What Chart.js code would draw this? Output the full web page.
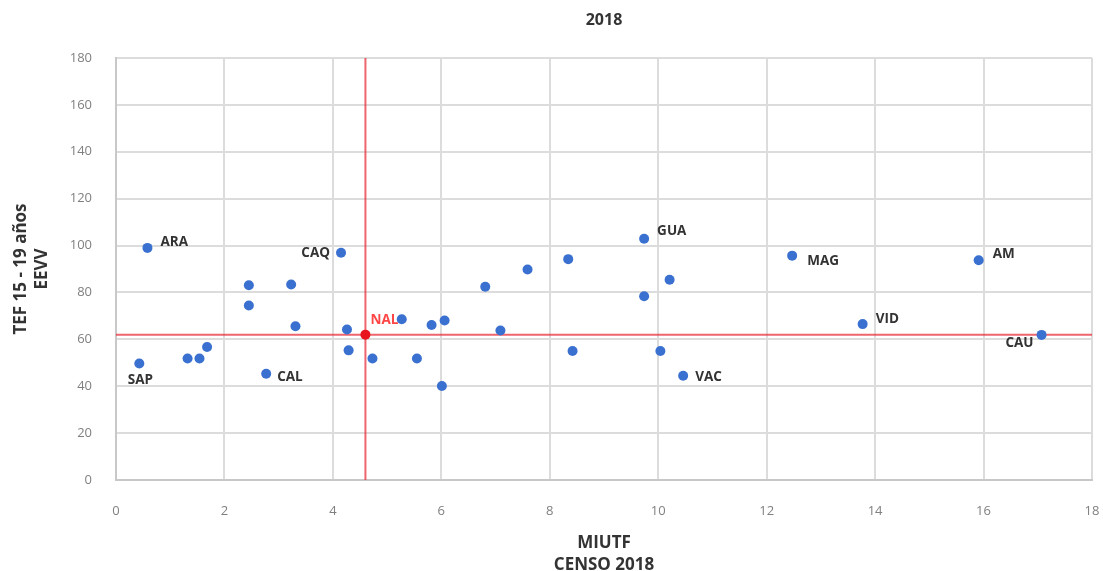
<!DOCTYPE html>
<html>
<head>
<meta charset="utf-8">
<script src="https://cdn.jsdelivr.net/npm/chart.js@4.4.1/dist/chart.umd.min.js"></script>
<style>
html,body{margin:0;padding:0;background:#fff;}
canvas{display:block;}
</style>
</head>
<body>
<canvas id="c" width="1103" height="571"></canvas>
<script>
// ---- data ----
const miutf = [0.58, 0.43, 1.32, 1.54, 1.68, 2.45, 2.45, 2.77, 3.23, 3.31, 4.15, 4.26, 4.29, 4.73, 5.27, 5.55, 5.82, 6.06, 6.01, 6.81, 7.09, 7.59, 8.34, 8.42, 9.74, 9.74, 10.21, 10.04, 10.46, 12.47, 13.77, 15.91, 17.07];
const tef   = [99.0, 49.7, 51.8, 51.8, 56.7, 83.1, 74.4, 45.3, 83.4, 65.6, 96.9, 64.2, 55.3, 51.8, 68.6, 51.8, 66.1, 68.0, 40.1, 82.4, 63.8, 89.8, 94.2, 55.0, 102.9, 78.4, 85.4, 55.0, 44.5, 95.7, 66.5, 93.7, 61.9];
const pointLabels = ['ARA', 'SAP', '', '', '', '', '', 'CAL', '', '', 'CAQ', '', '', '', '', '', '', '', '', '', '', '', '', '', 'GUA', '', '', '', 'VAC', 'MAG', 'VID', 'AM', 'CAU'];
const nalLabel = 'NAL';
const nalMiutf = 4.6;
const nalTef = 62;
const xTicks = [0, 2, 4, 6, 8, 10, 12, 14, 16, 18];
const yTicks = [0, 20, 40, 60, 80, 100, 120, 140, 160, 180];
const chartTitle = '2018';
const xTitle = ['MIUTF', 'CENSO 2018'];
const yTitle = ['TEF 15 - 19 años', 'EEVV'];

// ---- label placement (style only) ----
const labelStyle = {
  ARA: {dx: 13, dy: -6, align: 'left'},
  CAQ: {dx: -11, dy: 0, align: 'right'},
  SAP: {dx: 1, dy: 17, align: 'center'},
  CAL: {dx: 11, dy: 3, align: 'left'},
  GUA: {dx: 13, dy: -8, align: 'left'},
  VAC: {dx: 12, dy: 1, align: 'left'},
  MAG: {dx: 15, dy: 6, align: 'left'},
  AM:  {dx: 14, dy: -6, align: 'left'},
  VID: {dx: 13, dy: -5, align: 'left'},
  CAU: {dx: -8, dy: 8, align: 'right'},
  NAL: {dx: 5, dy: -14, align: 'left'}
};

const FONT = "'Open Sans', 'Noto Sans', sans-serif";
const BLUE = 'rgb(58,112,208)';
const RED = 'rgb(232,20,30)';
const REDLINE = 'rgba(232,50,60,0.75)';

const points = miutf.map((x, i) => ({x: x, y: tef[i]}));

const labelPlugin = {
  id: 'pointLabels',
  afterDatasetsDraw(chart) {
    const ctx = chart.ctx;
    ctx.save();
    ctx.font = "bold 13.5px " + FONT;
    ctx.textBaseline = 'middle';
    const meta = chart.getDatasetMeta(2);
    meta.data.forEach((el, i) => {
      const lab = pointLabels[i];
      if (!lab) return;
      const s = labelStyle[lab] || {dx: 10, dy: 0, align: 'left'};
      ctx.fillStyle = '#333';
      ctx.textAlign = s.align;
      ctx.fillText(lab, el.x + s.dx, el.y + s.dy);
    });
    const nm = chart.getDatasetMeta(3);
    nm.data.forEach((el) => {
      const s = labelStyle[nalLabel];
      ctx.fillStyle = 'rgb(255,70,70)';
      ctx.textAlign = s.align;
      ctx.fillText(nalLabel, el.x + s.dx, el.y + s.dy);
    });
    ctx.restore();
  }
};

new Chart(document.getElementById('c'), {
  type: 'scatter',
  data: {
    datasets: [
      {
        label: 'vline',
        data: [{x: nalMiutf, y: yTicks[0]}, {x: nalMiutf, y: yTicks[yTicks.length - 1]}],
        showLine: true, borderColor: REDLINE, borderWidth: 2, pointRadius: 0, order: 5
      },
      {
        label: 'hline',
        data: [{x: xTicks[0], y: nalTef}, {x: xTicks[xTicks.length - 1], y: nalTef}],
        showLine: true, borderColor: REDLINE, borderWidth: 2, pointRadius: 0, order: 4
      },
      {
        label: 'points',
        data: points,
        backgroundColor: BLUE, borderWidth: 0, pointRadius: 5, order: 2
      },
      {
        label: nalLabel,
        data: [{x: nalMiutf, y: nalTef}],
        backgroundColor: RED, borderWidth: 0, pointRadius: 5, order: 1
      }
    ]
  },
  options: {
    responsive: false,
    animation: false,
    devicePixelRatio: 1,
    layout: {padding: {left: 0, right: 11, top: 0, bottom: 0}},
    plugins: {
      legend: {display: false},
      tooltip: {enabled: false},
      title: {
        display: true,
        text: chartTitle,
        fullSize: false,
        color: '#333',
        font: {family: FONT, size: 16, weight: 'bold', lineHeight: '20px'},
        padding: {top: 10, bottom: 28}
      }
    },
    scales: {
      x: {
        type: 'linear',
        min: xTicks[0], max: xTicks[xTicks.length - 1],
        afterBuildTicks: (s) => { s.ticks = xTicks.map(v => ({value: v})); },
        afterFit: (s) => { s.height = 91; s.paddingLeft = 0; s.paddingRight = 0; },
        grid: {color: '#dcdcdc', lineWidth: 2, drawTicks: false},
        border: {color: '#c8c8c8', width: 2},
        ticks: {color: '#808080', padding: 23, font: {family: FONT, size: 13}},
        title: {
          display: true, text: xTitle, color: '#333',
          font: {family: FONT, size: 17, weight: 'bold', lineHeight: '22px'},
          padding: {top: 0, bottom: -5}
        }
      },
      y: {
        type: 'linear',
        min: yTicks[0], max: yTicks[yTicks.length - 1],
        afterBuildTicks: (s) => { s.ticks = yTicks.map(v => ({value: v})); },
        afterFit: (s) => { s.width = 116; s.paddingTop = 0; s.paddingBottom = 0; },
        grid: {color: '#dcdcdc', lineWidth: 2, drawTicks: false},
        border: {color: '#c8c8c8', width: 2},
        ticks: {color: '#808080', padding: 24, font: {family: FONT, size: 13}},
        title: {
          display: true, text: yTitle, color: '#333',
          font: {family: FONT, size: 17, weight: 'bold', lineHeight: '21px'},
          padding: {top: 10.5, bottom: 0}
        }
      }
    }
  },
  plugins: [labelPlugin]
});
</script>
</body>
</html>
